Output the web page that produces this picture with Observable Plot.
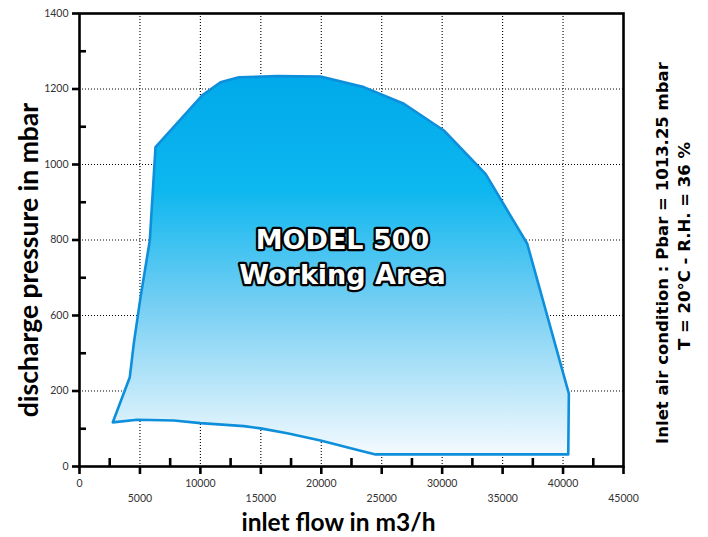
<!DOCTYPE html>
<html>
<head>
<meta charset="utf-8">
<script src="https://cdn.jsdelivr.net/npm/d3@7"></script>
<script src="https://cdn.jsdelivr.net/npm/@observablehq/plot@0.6"></script>
<style>
  html, body { margin: 0; padding: 0; background: #fff; }
  #chart svg { display: block; }
</style>
</head>
<body>
<div id="chart"></div>
<script>
// Working-area outline (clockwise from lower-left corner)
const flow = [2755, 4161, 4492, 5047, 5816, 6287, 10151, 11665, 13179, 16356, 19938, 23520, 26830, 30139, 33588, 37038, 40480, 40430, 24488, 23247, 19938, 17183, 14974, 13593, 10010, 7801, 4773];
const pressure = [117, 273, 452, 648, 799, 1046, 1183, 1218, 1231, 1234, 1233, 1205, 1161, 1090, 975, 790, 193, 32, 32, 42, 69, 88, 101, 107, 115, 122, 124];

// Tick labels as printed on the original chart
const xTicksUpper = [0, 10000, 20000, 30000, 40000];
const xTicksLower = [5000, 15000, 25000, 35000, 45000];
const xMinor = [2500, 7500, 12500, 17500, 22500, 27500, 32500, 37500, 42500];
const xGrid = [5000, 10000, 15000, 20000, 25000, 30000, 35000, 40000];
const yTicks = [0, 200, 600, 800, 1000, 1200, 1400];
const yMinor = [100, 400, 700, 900, 1100, 1300];
const yGrid = [200, 600, 800, 1000, 1200];

const xTitle = "inlet flow in m3/h";
const yTitle = "discharge pressure in mbar";
const areaLabel = "MODEL 500\nWorking Area";
const noteLine1 = "Inlet air condition : Pbar = 1013.25 mbar";
const noteLine2 = "T = 20°C - R.H. = 36 %";

const W = 708, H = 537, mL = 79, mR = 85, mT = 13, mB = 71;
const innerW = W - mL - mR, innerH = H - mT - mB;

const outline = flow.map((x, i) => ({x, y: pressure[i]}));

const gradientDefs = () => {
  const defs = d3.create("svg:defs");
  const g = defs.append("linearGradient")
    .attr("id", "workArea").attr("x1", 0).attr("y1", 0).attr("x2", 0).attr("y2", 1);
  g.append("stop").attr("offset", "0%").attr("stop-color", "#00a9ea");
  g.append("stop").attr("offset", "30%").attr("stop-color", "#0db7ef");
  g.append("stop").attr("offset", "60%").attr("stop-color", "#74cef3");
  g.append("stop").attr("offset", "100%").attr("stop-color", "#f4fafe");
  return defs.node();
};

const textCommon = {text: d => d, fontWeight: "bold", fill: "#000", textAnchor: "middle", lineAnchor: "middle"};

const chart = Plot.plot({
  width: W,
  height: H,
  marginLeft: mL,
  marginRight: mR,
  marginTop: mT,
  marginBottom: mB,
  style: {fontFamily: "Lato, sans-serif", background: "#fff", overflow: "visible"},
  x: {type: "linear", domain: [0, 45000]},
  y: {
    type: "linear",
    domain: yTicks,
    range: yTicks.map((d, i) => H - mB - i * innerH / (yTicks.length - 1))
  },
  marks: [
    gradientDefs,
    Plot.gridX({ticks: xGrid, stroke: "#000", strokeOpacity: 1, strokeWidth: 1.1, strokeDasharray: "1,2"}),
    Plot.gridY({ticks: yGrid, stroke: "#000", strokeOpacity: 1, strokeWidth: 1.1, strokeDasharray: "1,2"}),
    Plot.line(outline, {x: "x", y: "y", curve: "linear-closed", fill: "url(#workArea)", stroke: "#0e8fdb", strokeWidth: 2.6, strokeLinejoin: "round"}),
    // minor ticks pointing inward
    Plot.tickX(xMinor, {x: d => d, insetTop: innerH - 8, stroke: "#000", strokeWidth: 2.6}),
    Plot.tickY(yMinor, {y: d => d, insetRight: innerW - 7, stroke: "#000", strokeWidth: 2.6}),
    // major ticks pointing outward, with labels
    Plot.axisX({ticks: xTicksUpper, tickSize: 8, tickPadding: 5, tickFormat: d => String(d), fontSize: 10.5, stroke: "#000", fill: "#333", strokeWidth: 2.6, label: null}),
    Plot.axisX({ticks: xTicksLower, tickSize: 8, tickPadding: 20, tickFormat: d => String(d), fontSize: 10.5, stroke: "#000", fill: "#333", strokeWidth: 2.6, label: null}),
    Plot.axisY({ticks: yTicks, tickSize: 7, tickPadding: 4, tickFormat: d => String(d), fontSize: 10.5, stroke: "#000", fill: "#333", strokeWidth: 2.6, label: null}),
    Plot.frame({stroke: "#000", strokeWidth: 2.6}),
    // working area label
    Plot.text([areaLabel], {frameAnchor: "middle", dx: -9, dy: 15, text: d => d, fontFamily: "DejaVu Sans", fontWeight: "bold", fontSize: 27, lineHeight: 1.3, fill: "#fff", stroke: "#000", strokeWidth: 4.5, paintOrder: "stroke"}),
    // axis titles
    Plot.text([xTitle], {...textCommon, frameAnchor: "bottom", dx: -13, dy: 57, fontSize: 24.5}),
    Plot.text([yTitle], {...textCommon, frameAnchor: "left", dx: -50, dy: 20, rotate: -90, fontSize: 26.5}),
    // inlet conditions note
    Plot.text([noteLine1], {...textCommon, frameAnchor: "right", dx: 39, dy: 13, rotate: -90, fontSize: 16.5, fontFamily: "DejaVu Sans"}),
    Plot.text([noteLine2], {...textCommon, frameAnchor: "right", dx: 61, dy: 6, rotate: -90, fontSize: 16.5, fontFamily: "DejaVu Sans"})
  ]
});

document.getElementById("chart").appendChild(chart);
</script>
</body>
</html>
